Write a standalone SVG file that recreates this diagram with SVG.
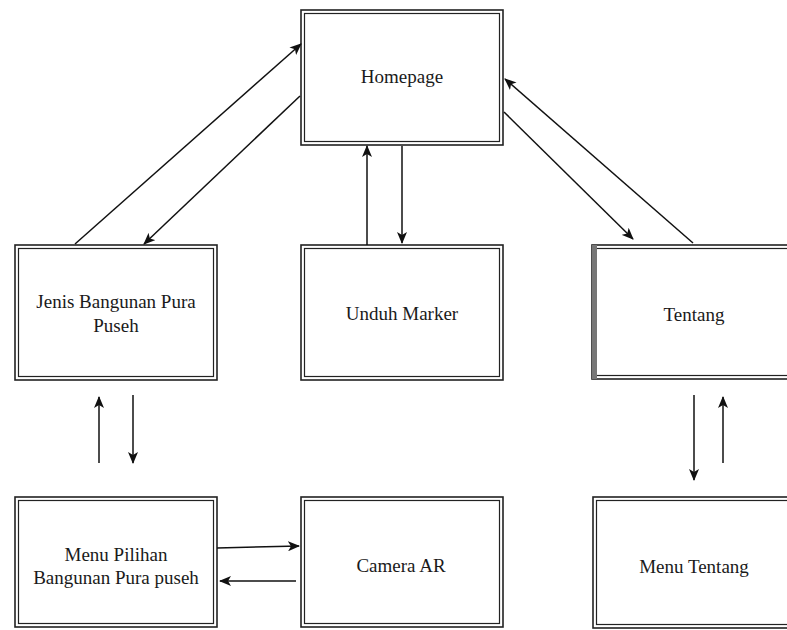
<svg xmlns="http://www.w3.org/2000/svg" width="787" height="630" viewBox="0 0 787 630">
  <style>
    .outer { fill: #fff; stroke: #222; stroke-width: 1.6; }
    .inner { fill: none; stroke: #222; stroke-width: 1.2; }
    .label { font-family: "Liberation Serif", "Times New Roman", serif; font-size: 19px; fill: #1a1a1a; text-anchor: middle; }
    .conn { stroke: #111; stroke-width: 1.5; fill: none; marker-end: url(#head); }
  </style>
  <defs>
    <marker id="head" viewBox="0 0 12 10" refX="11" refY="5" markerWidth="12" markerHeight="10" markerUnits="userSpaceOnUse" orient="auto">
      <path d="M0,0 L12,5 L0,10 L3,5 z" fill="#111"/>
    </marker>
  </defs>
  <rect width="787" height="630" fill="#fff"/>

  <g id="homepage">
    <rect class="outer" x="301" y="10" width="202" height="135"/>
    <rect class="inner" x="304.5" y="13.5" width="195" height="128"/>
    <text class="label" x="402" y="83">Homepage</text>
  </g>

  <g id="jenis-bangunan">
    <rect class="outer" x="15" y="245" width="202" height="135"/>
    <rect class="inner" x="18.5" y="248.5" width="195" height="128"/>
    <text class="label" x="116" y="308">Jenis Bangunan Pura</text>
    <text class="label" x="116" y="332">Puseh</text>
  </g>

  <g id="unduh-marker">
    <rect class="outer" x="301" y="245" width="202" height="135"/>
    <rect class="inner" x="304.5" y="248.5" width="195" height="128"/>
    <text class="label" x="402" y="320">Unduh Marker</text>
  </g>

  <g id="tentang">
    <rect class="outer" x="592" y="245" width="210" height="134"/>
    <rect class="inner" x="595.5" y="248.5" width="203" height="127"/>
    <rect x="592" y="245" width="5" height="134" fill="#777"/>
    <text class="label" x="694" y="321">Tentang</text>
  </g>

  <g id="menu-pilihan">
    <rect class="outer" x="15" y="497" width="202" height="130"/>
    <rect class="inner" x="18.5" y="500.5" width="195" height="123"/>
    <text class="label" x="116" y="561">Menu Pilihan</text>
    <text class="label" x="116" y="584">Bangunan Pura puseh</text>
  </g>

  <g id="camera-ar">
    <rect class="outer" x="301" y="497" width="202" height="130"/>
    <rect class="inner" x="304.5" y="500.5" width="195" height="123"/>
    <text class="label" x="401" y="572">Camera AR</text>
  </g>

  <g id="menu-tentang">
    <rect class="outer" x="593" y="497" width="210" height="131"/>
    <rect class="inner" x="596.5" y="500.5" width="203" height="124"/>
    <text class="label" x="694" y="573">Menu Tentang</text>
  </g>

  <g id="connectors">
    <line class="conn" x1="75" y1="244" x2="301" y2="44"/>
    <line class="conn" x1="300" y1="96" x2="144" y2="244"/>
    <line class="conn" x1="367" y1="245" x2="367" y2="146"/>
    <line class="conn" x1="402" y1="146" x2="402" y2="243"/>
    <line class="conn" x1="693" y1="243" x2="505" y2="79"/>
    <line class="conn" x1="504" y1="112" x2="633" y2="239"/>
    <line class="conn" x1="99" y1="463" x2="99" y2="397"/>
    <line class="conn" x1="133" y1="395" x2="133" y2="463"/>
    <line class="conn" x1="694" y1="395" x2="694" y2="480"/>
    <line class="conn" x1="723" y1="463" x2="723" y2="397"/>
    <line class="conn" x1="217" y1="548" x2="299" y2="546"/>
    <line class="conn" x1="296" y1="581" x2="220" y2="581"/>
  </g>
</svg>
